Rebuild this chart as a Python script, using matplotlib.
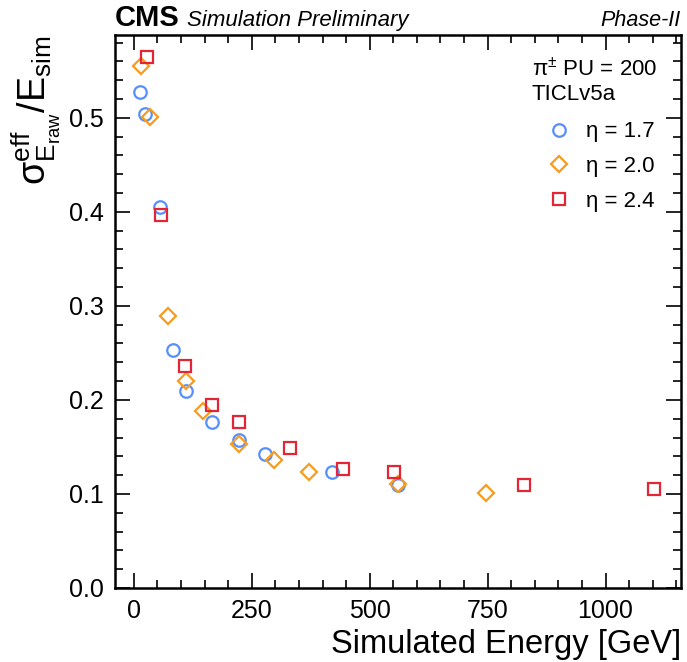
import matplotlib
matplotlib.use("Agg")
import matplotlib.pyplot as plt
from matplotlib.ticker import MultipleLocator

plt.rcParams["font.family"] = ["Liberation Sans", "DejaVu Sans"]
plt.rcParams["mathtext.fontset"] = "custom"
plt.rcParams["mathtext.rm"] = "Liberation Sans"
plt.rcParams["mathtext.it"] = "Liberation Sans:italic"

# values
energy_17 = [12, 23, 55, 83, 110, 166, 223, 279, 419, 561]
reso_17 = [0.527, 0.504, 0.405, 0.253, 0.209, 0.177, 0.157, 0.142, 0.123, 0.109]
energy_20 = [16, 34, 73, 110, 147, 223, 298, 372, 561, 747]
reso_20 = [0.555, 0.501, 0.289, 0.220, 0.188, 0.153, 0.136, 0.123, 0.111, 0.101]
energy_24 = [27, 57, 108, 166, 223, 330, 443, 552, 828, 1102]
reso_24 = [0.565, 0.397, 0.236, 0.195, 0.177, 0.149, 0.127, 0.123, 0.109, 0.105]

series = [
    (energy_17, reso_17, "o", "#5790fc", "η = 1.7", 9),
    (energy_20, reso_20, "D", "#f89c20", "η = 2.0", 8),
    (energy_24, reso_24, "s", "#e42536", "η = 2.4", 8.5),
]

fig = plt.figure(figsize=(6.87, 6.62), dpi=100)
ax = fig.add_axes([0.1674, 0.1118, 0.8239, 0.8353])

for x, y, m, c, lab, ms in series:
    ax.plot(x, y, linestyle="", marker=m, markersize=ms, markerfacecolor="none",
            markeredgecolor=c, markeredgewidth=1.6, label=lab)

ax.set_xlim(-40, 1160)
ax.set_ylim(0, 0.588)
ax.xaxis.set_major_locator(MultipleLocator(250))
ax.xaxis.set_minor_locator(MultipleLocator(50))
ax.yaxis.set_major_locator(MultipleLocator(0.1))
ax.yaxis.set_minor_locator(MultipleLocator(0.02))
ax.tick_params(which="both", direction="in", top=True, right=True, labelsize=18, width=1.2)
ax.tick_params(which="major", length=11, pad=8)
ax.tick_params(which="minor", length=5.5)
for s in ax.spines.values():
    s.set_linewidth(1.8)

ax.set_xlabel("Simulated Energy [GeV]", fontsize=23.5, loc="right")
ax.set_ylabel(r"$\mathrm{σ}^{\mathrm{eff}}_{\mathrm{E_{raw}}}/\mathrm{E_{sim}}$", fontsize=27, loc="top")

ax.text(0.0, 1.006, "CMS", transform=ax.transAxes, fontsize=21, fontweight="bold", va="bottom")
ax.text(0.127, 1.008, "Simulation Preliminary", transform=ax.transAxes, fontsize=16,
        style="italic", va="bottom")
ax.text(1.0, 1.008, "Phase-II", transform=ax.transAxes, fontsize=15.5, style="italic",
        va="bottom", ha="right")

ax.text(0.736, 0.938, "π$^{\\pm}$ PU = 200", transform=ax.transAxes, fontsize=16, va="center")
ax.text(0.736, 0.893, "TICLv5a", transform=ax.transAxes, fontsize=16, va="center")
ax.legend(loc="upper left", bbox_to_anchor=(0.745, 0.86), frameon=False, fontsize=16,
          labelspacing=0.62, handletextpad=0.6, handlelength=1.2, borderaxespad=0)

fig.savefig("out.png", dpi=100)
